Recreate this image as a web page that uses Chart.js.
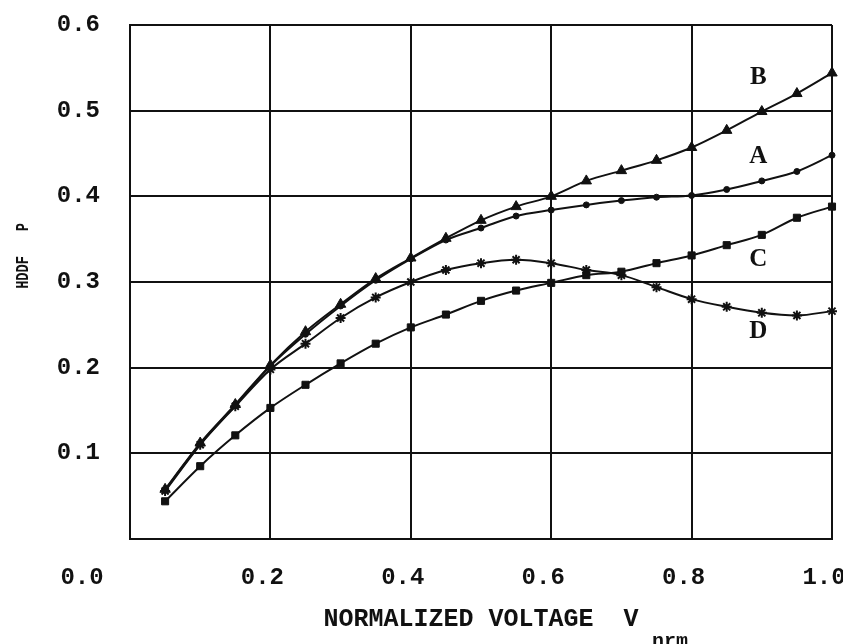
<!DOCTYPE html>
<html>
<head>
<meta charset="utf-8">
<script src="https://cdn.jsdelivr.net/npm/chart.js@4.4.1/dist/chart.umd.min.js"></script>
<style>
  html, body { margin: 0; padding: 0; background: #fff; }
  #wrap { width: 843px; height: 644px; }
</style>
</head>
<body>
<div id="wrap"><canvas id="line-chart" width="843" height="644"></canvas></div>
<script>
// normalized voltage (x) and HDDF P for the four curves
const voltage = [0.05, 0.10, 0.15, 0.20, 0.25, 0.30, 0.35, 0.40, 0.45, 0.50,
                 0.55, 0.60, 0.65, 0.70, 0.75, 0.80, 0.85, 0.90, 0.95, 1.00];
const curveA = [0.057, 0.111, 0.156, 0.202, 0.239, 0.272, 0.302, 0.327, 0.349, 0.363,
                0.377, 0.384, 0.390, 0.395, 0.399, 0.401, 0.408, 0.418, 0.429, 0.448];
const curveB = [0.058, 0.112, 0.157, 0.203, 0.242, 0.274, 0.304, 0.328, 0.351, 0.372,
                0.388, 0.400, 0.418, 0.430, 0.442, 0.457, 0.477, 0.499, 0.520, 0.544];
const curveC = [0.044, 0.085, 0.121, 0.153, 0.180, 0.205, 0.228, 0.247, 0.262, 0.278,
                0.290, 0.299, 0.308, 0.312, 0.322, 0.331, 0.343, 0.355, 0.375, 0.388];
const curveD = [0.056, 0.110, 0.155, 0.198, 0.228, 0.258, 0.282, 0.300, 0.314, 0.322,
                0.326, 0.322, 0.314, 0.308, 0.294, 0.280, 0.271, 0.264, 0.261, 0.266];
const xTicks = [0.0, 0.2, 0.4, 0.6, 0.8, 1.0];
const yTicks = [0.0, 0.1, 0.2, 0.3, 0.4, 0.5, 0.6];

// curve letters, placed in data units
const curveNames = ['B', 'A', 'C', 'D'];
const nameX = [0.895, 0.895, 0.895, 0.895];
const nameY = [0.539, 0.447, 0.326, 0.242];

const INK = '#111';
const mono = '"Liberation Mono", "DejaVu Sans Mono", monospace';

function pts(ys) {
    return voltage.map((v, i) => ({ x: v, y: ys[i] }));
}

function series(label, ys, style, radius) {
    return {
        label: label,
        data: pts(ys),
        borderColor: INK,
        backgroundColor: INK,
        borderWidth: 2,
        pointStyle: style,
        pointRadius: radius,
        pointBorderWidth: style === 'star' ? 2 : 1,
        pointBorderColor: INK,
        pointBackgroundColor: INK,
        cubicInterpolationMode: 'monotone',
        clip: false
    };
}

// no automatic label padding: frame is fixed
function noPad(s) {
    s.paddingLeft = 0; s.paddingRight = 0; s.paddingTop = 0; s.paddingBottom = 0;
}

const extraText = {
    id: 'extraText',
    afterDraw(chart) {
        const ctx = chart.ctx, xs = chart.scales.x, ys = chart.scales.y;
        ctx.save();
        ctx.fillStyle = INK;
        ctx.textAlign = 'center';
        ctx.textBaseline = 'middle';
        // origin label sits left of the frame
        ctx.font = 'bold 24px ' + mono;
        ctx.fillText('0.0', xs.getPixelForValue(0) - 48, 578);
        // curve letters
        ctx.font = 'bold 25px "Liberation Serif", serif';
        curveNames.forEach((n, i) => {
            ctx.fillText(n, xs.getPixelForValue(nameX[i]), ys.getPixelForValue(nameY[i]));
        });
        // subscript of the x title
        ctx.font = 'bold 20px ' + mono;
        ctx.textBaseline = 'top';
        ctx.fillText('nrm', 670, 632);
        // y title, narrow letters
        ctx.textBaseline = 'middle';
        ctx.translate(23, 256);
        ctx.rotate(-Math.PI / 2);
        ctx.scale(0.72, 1);
        ctx.font = 'bold 19px ' + mono;
        ctx.fillText('HDDF   P', 0, 0);
        ctx.restore();
    }
};

new Chart(document.getElementById('line-chart'), {
    type: 'line',
    data: {
        datasets: [
            series('A', curveA, 'circle', 3),
            series('B', curveB, 'triangle', 6),
            series('C', curveC, 'rect', 5),
            series('D', curveD, 'star', 5)
        ]
    },
    options: {
        responsive: false,
        animation: false,
        layout: { padding: { left: 0, right: 11, top: 25, bottom: 0 }, autoPadding: false },
        plugins: { legend: { display: false }, tooltip: { enabled: false } },
        scales: {
            x: {
                type: 'linear',
                min: 0, max: 1,
                afterBuildTicks: s => { s.ticks = xTicks.map(v => ({ value: v })); },
                afterFit: s => { s.height = 105; noPad(s); },
                grid: { color: INK, lineWidth: 2, drawTicks: false },
                border: { color: INK, width: 2 },
                ticks: {
                    color: INK,
                    font: { family: mono, size: 24, weight: 'bold' },
                    padding: 25,
                    labelOffset: -8,
                    maxRotation: 0,
                    autoSkip: false,
                    callback: v => v === 0 ? '' : v.toFixed(1)
                },
                title: {
                    display: true,
                    text: 'NORMALIZED VOLTAGE  V',
                    color: INK,
                    font: { family: mono, size: 25, weight: 'bold' },
                    padding: { top: 0, bottom: 9 }
                }
            },
            y: {
                min: 0, max: 0.6,
                afterBuildTicks: s => { s.ticks = yTicks.map(v => ({ value: v })); },
                afterFit: s => { s.width = 130; noPad(s); },
                grid: { color: INK, lineWidth: 2, drawTicks: false },
                border: { color: INK, width: 2 },
                ticks: {
                    color: INK,
                    font: { family: mono, size: 24, weight: 'bold' },
                    padding: 30,
                    callback: v => v === 0 ? '' : v.toFixed(1)
                }
            }
        }
    },
    plugins: [extraText]
});
</script>
</body>
</html>
